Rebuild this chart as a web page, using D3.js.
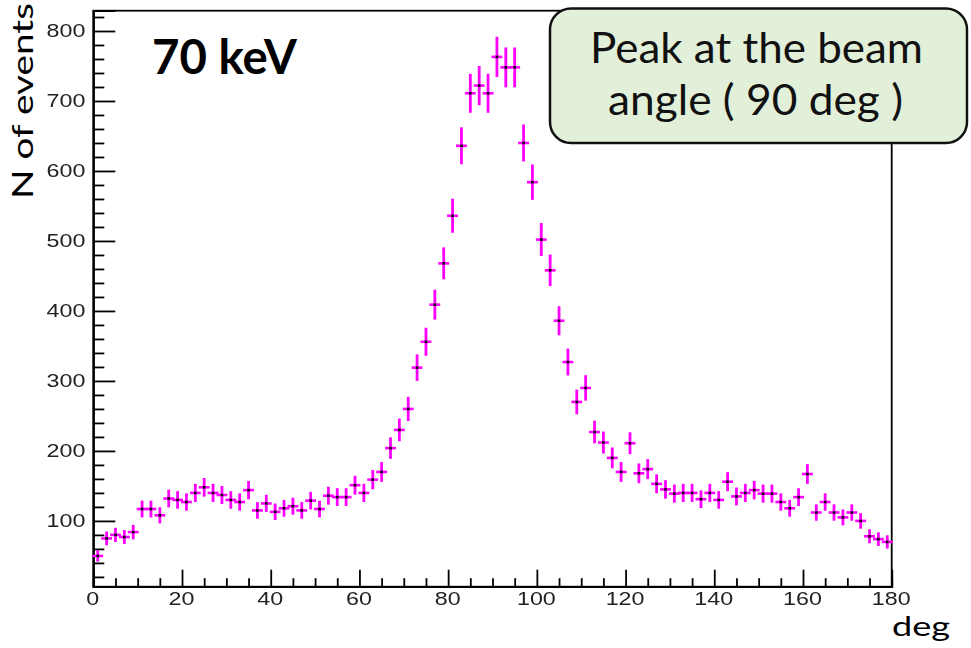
<!DOCTYPE html>
<html>
<head>
<meta charset="utf-8">
<script src="https://cdn.jsdelivr.net/npm/d3@7"></script>
<style>
  html, body { margin: 0; padding: 0; background: #fff; }
  svg { display: block; }
</style>
</head>
<body>
<svg id="chart" width="971" height="648"></svg>
<script>
// Angular distribution of events, 2-degree bins
const angles = [
  1, 3, 5, 7, 9, 11, 13, 15, 17, 19, 21, 23, 25, 27, 29, 31, 33, 35, 37, 39,
  41, 43, 45, 47, 49, 51, 53, 55, 57, 59, 61, 63, 65, 67, 69, 71, 73, 75, 77, 79,
  81, 83, 85, 87, 89, 91, 93, 95, 97, 99, 101, 103, 105, 107, 109, 111, 113, 115, 117, 119,
  121, 123, 125, 127, 129, 131, 133, 135, 137, 139, 141, 143, 145, 147, 149, 151, 153, 155, 157, 159,
  161, 163, 165, 167, 169, 171, 173, 175, 177, 179
];
const counts = [
  50, 75, 80, 77, 84, 117, 117, 108, 132, 130, 127, 140, 148, 140, 137, 130, 127, 144, 115, 125,
  113, 118, 121, 115, 129, 117, 136, 134, 134, 151, 140, 159, 170, 204, 230, 260, 319, 356, 409, 468,
  536, 636, 711, 722, 711, 763, 748, 748, 640, 584, 502, 458, 386, 327, 270, 290, 227, 212, 190, 170,
  211, 168, 174, 153, 145, 139, 140, 140, 131, 140, 130, 156, 135, 140, 144, 139, 139, 127, 118, 134,
  167, 112, 127, 112, 105, 112, 100, 78, 74, 70
];
const binWidth = 2;
const xTicks = [0, 20, 40, 60, 80, 100, 120, 140, 160, 180];
const xMinorTicks = d3.range(0, 181, 5).filter(v => v % 20 !== 0);
const yTicks = [100, 200, 300, 400, 500, 600, 700, 800];
const yMinorTicks = d3.range(20, 821, 20).filter(v => v % 100 !== 0);

const svg = d3.select("#chart");

const x = d3.scaleLinear().domain([0, 180]).range([93.3, 891.7]);
const y = d3.scaleLinear().domain([6, 829]).range([586.7, 10.7]);

const defs = svg.append("defs");
defs.append("filter").attr("id", "soft")
  .attr("x", "-10%").attr("y", "-10%").attr("width", "120%").attr("height", "120%")
  .append("feGaussianBlur").attr("stdDeviation", 0.45);

const plotLeft = x.range()[0], plotRight = x.range()[1];
const plotBottom = y.range()[0], plotTop = y.range()[1];

// frame
svg.append("rect")
  .attr("x", plotLeft).attr("y", plotTop)
  .attr("width", plotRight - plotLeft).attr("height", plotBottom - plotTop)
  .attr("fill", "none").attr("stroke", "#000").attr("stroke-width", 1.8);

const labelFont = "'Liberation Sans', Arial, Helvetica, sans-serif";

// y axis: ticks pointing into the frame
const yAxis = svg.append("g")
  .attr("transform", `translate(${plotLeft},0)`)
  .call(d3.axisLeft(y).tickValues(yTicks).tickSize(-22).tickPadding(6).tickFormat(d3.format("d")));
const yMinor = svg.append("g")
  .attr("transform", `translate(${plotLeft},0)`)
  .call(d3.axisLeft(y).tickValues(yMinorTicks).tickSize(-11).tickFormat(""));

// x axis
const xAxis = svg.append("g")
  .attr("transform", `translate(0,${plotBottom})`)
  .call(d3.axisBottom(x).tickValues(xTicks).tickSize(-17).tickPadding(6).tickFormat(d3.format("d")));
const xMinor = svg.append("g")
  .attr("transform", `translate(0,${plotBottom})`)
  .call(d3.axisBottom(x).tickValues(xMinorTicks).tickSize(-8.5).tickFormat(""));

[yAxis, yMinor, xAxis, xMinor].forEach(g => {
  g.select(".domain").attr("stroke", "#000").attr("stroke-width", 1.8);
  g.selectAll(".tick line").attr("stroke", "#000").attr("stroke-width", 1.8);
});

yAxis.selectAll(".tick text")
  .attr("font-family", labelFont).attr("font-size", 17.5)
  .attr("fill", "#222").attr("filter", "url(#soft)")
  .attr("transform", "scale(1.33,1)");
xAxis.selectAll(".tick text")
  .attr("font-family", labelFont).attr("font-size", 17.5)
  .attr("fill", "#222").attr("filter", "url(#soft)")
  .attr("transform", "translate(-1,0) scale(1.33,1)");

// error-bar markers
const pts = angles.map((a, i) => ({ a, n: counts[i], e: Math.sqrt(counts[i]) }));
const marks = svg.append("g").attr("class", "points");
const magenta = "#ff00ff";

marks.selectAll("line.h").data(pts).join("line")
  .attr("class", "h")
  .attr("x1", d => x(d.a - binWidth / 2) - 1).attr("x2", d => x(d.a + binWidth / 2) + 1)
  .attr("y1", d => y(d.n)).attr("y2", d => y(d.n))
  .attr("stroke", magenta).attr("stroke-width", 2.6);

marks.selectAll("line.v").data(pts).join("line")
  .attr("class", "v")
  .attr("x1", d => x(d.a)).attr("x2", d => x(d.a))
  .attr("y1", d => y(d.n + d.e) - 0.8).attr("y2", d => y(d.n - d.e) + 0.8)
  .attr("stroke", magenta).attr("stroke-width", 2.8);

marks.selectAll("rect.c").data(pts).join("rect")
  .attr("class", "c")
  .attr("x", d => x(d.a) - 1.3).attr("y", d => y(d.n) - 1.3)
  .attr("width", 2.6).attr("height", 2.6)
  .attr("fill", "#111");

// axis titles
svg.append("text")
  .attr("transform", "translate(33,199) rotate(-90)")
  .attr("font-family", "Lato, 'Open Sans', sans-serif")
  .attr("font-size", 28)
  .attr("textLength", 196).attr("lengthAdjust", "spacingAndGlyphs")
  .attr("fill", "#000")
  .text("N of events");

svg.append("text")
  .attr("x", 892).attr("y", 636)
  .attr("font-family", "Lato, 'Open Sans', sans-serif")
  .attr("font-size", 27)
  .attr("textLength", 58).attr("lengthAdjust", "spacingAndGlyphs")
  .attr("fill", "#000")
  .text("deg");

// energy label
svg.append("text")
  .attr("x", 152).attr("y", 73.5)
  .attr("font-family", "Lato, 'Open Sans', sans-serif")
  .attr("font-weight", 700)
  .attr("font-size", 47)
  .attr("textLength", 145).attr("lengthAdjust", "spacingAndGlyphs")
  .attr("fill", "#000")
  .text("70 keV");

// annotation box
const note = svg.append("g");
note.append("rect")
  .attr("x", 550).attr("y", 8.5).attr("width", 417).attr("height", 134.5)
  .attr("rx", 21).attr("ry", 21)
  .attr("fill", "#e2efd9").attr("stroke", "#111").attr("stroke-width", 2.5);
const noteLines = [
  { t: "Peak at the beam", x: 590, y: 63.3, w: 333 },
  { t: "angle ( 90 deg )", x: 608, y: 115, w: 295 }
];
note.selectAll("text").data(noteLines).join("text")
  .attr("x", d => d.x).attr("y", d => d.y)
  .attr("font-family", "Lato, 'Open Sans', sans-serif")
  .attr("font-size", 42)
  .attr("textLength", d => d.w).attr("lengthAdjust", "spacingAndGlyphs")
  .attr("fill", "#111")
  .text(d => d.t);
</script>
</body>
</html>
